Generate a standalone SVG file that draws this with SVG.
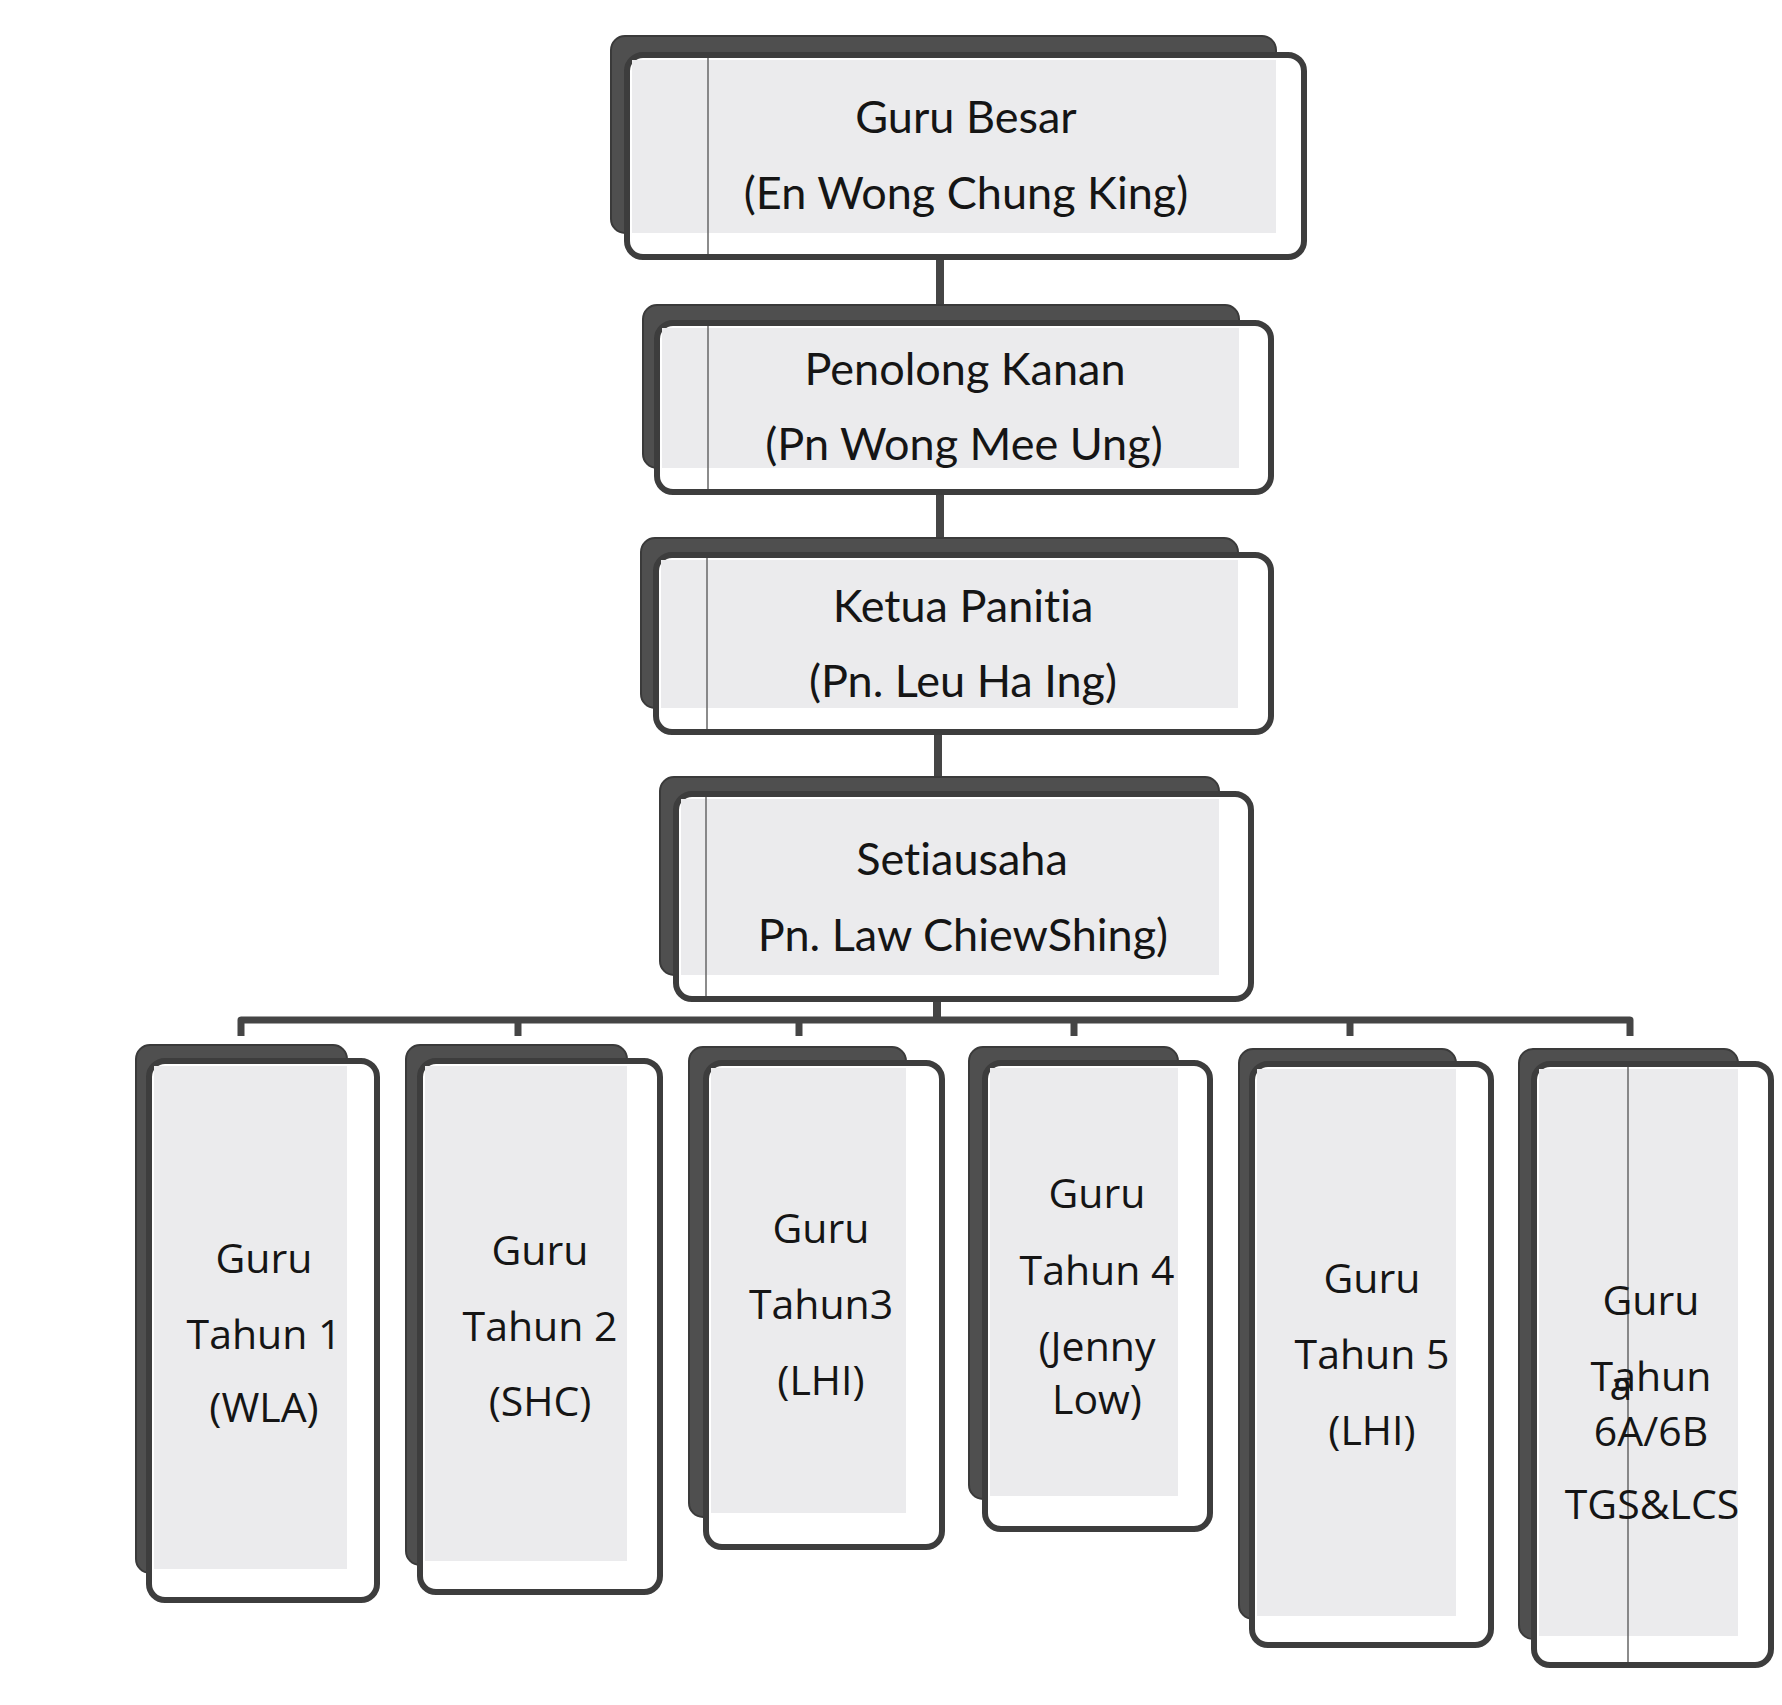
<svg xmlns="http://www.w3.org/2000/svg" width="1782" height="1705" viewBox="0 0 1782 1705">
<defs>
<style>
.shadow{fill:#4f4f4f;stroke:#3a3a3a;stroke-width:2}
.main{fill:#ffffff;stroke:#3d3d3d;stroke-width:6}
.inner{fill:#ebebed}
.vline{stroke:#666;stroke-width:1.5}
.conn{fill:none;stroke:#454545;stroke-width:8;stroke-linejoin:round}
.bus{fill:none;stroke:#454545;stroke-width:7;stroke-linejoin:round}
.t1{font-family:Lato,"Liberation Sans",sans-serif;font-size:45px;fill:#151515;text-anchor:middle;font-variant-ligatures:none;font-feature-settings:"liga" 0,"clig" 0}
.t2{font-family:"Open Sans","Liberation Sans",sans-serif;font-size:41px;fill:#151515;text-anchor:middle;font-variant-ligatures:none}
</style>
</defs>
<rect width="1782" height="1705" fill="#ffffff"/>

<g id="connectors">
<path class="conn" d="M940,257 V306"/>
<path class="conn" d="M940,492 V539"/>
<path class="conn" d="M938,732 V777"/>
<path class="conn" d="M937,999 V1020"/>
<path class="bus" d="M241,1036 V1020 H1630 V1036"/>
<path class="bus" d="M518,1020 V1036"/>
<path class="bus" d="M799,1020 V1036"/>
<path class="bus" d="M1074,1020 V1036"/>
<path class="bus" d="M1350,1020 V1036"/>
</g>

<g id="node-guru-besar">
<rect class="shadow" x="611" y="36" width="665" height="197" rx="14"/>
<rect class="main" x="627" y="55" width="677" height="202" rx="16"/>
<rect class="inner" x="632" y="60" width="644" height="173"/>
<line class="vline" x1="708" y1="58" x2="708" y2="254"/>
<text class="t1" x="966" y="133">Guru Besar</text>
<text class="t1" x="966" y="209">(En Wong Chung King)</text>
</g>

<g id="node-penolong-kanan">
<rect class="shadow" x="643" y="305" width="596" height="163" rx="14"/>
<rect class="main" x="657" y="323" width="614" height="169" rx="16"/>
<rect class="inner" x="662" y="328" width="577" height="140"/>
<line class="vline" x1="708" y1="326" x2="708" y2="489"/>
<text class="t1" x="965" y="385">Penolong Kanan</text>
<text class="t1" x="964" y="460">(Pn Wong Mee Ung)</text>
</g>

<g id="node-ketua-panitia">
<rect class="shadow" x="641" y="538" width="597" height="170" rx="14"/>
<rect class="main" x="656" y="555" width="615" height="177" rx="16"/>
<rect class="inner" x="661" y="560" width="577" height="148"/>
<line class="vline" x1="707" y1="558" x2="707" y2="729"/>
<text class="t1" x="963" y="622">Ketua Panitia</text>
<text class="t1" x="963" y="697">(Pn. Leu Ha Ing)</text>
</g>

<g id="node-setiausaha">
<rect class="shadow" x="660" y="777" width="559" height="198" rx="14"/>
<rect class="main" x="676" y="794" width="575" height="205" rx="16"/>
<rect class="inner" x="681" y="799" width="538" height="176"/>
<line class="vline" x1="706" y1="797" x2="706" y2="996"/>
<text class="t1" x="962" y="875">Setiausaha</text>
<text class="t1" x="963" y="951">Pn. Law ChiewShing)</text>
</g>

<g id="node-tahun-1">
<rect class="shadow" x="136" y="1045" width="211" height="528" rx="14"/>
<rect class="main" x="149" y="1061" width="228" height="539" rx="16"/>
<rect class="inner" x="154" y="1066" width="193" height="503"/>
<text class="t2" x="264" y="1273">Guru</text>
<text class="t2" x="264" y="1349">Tahun 1</text>
<text class="t2" x="264" y="1422">(WLA)</text>
</g>

<g id="node-tahun-2">
<rect class="shadow" x="406" y="1045" width="221" height="520" rx="14"/>
<rect class="main" x="420" y="1061" width="240" height="531" rx="16"/>
<rect class="inner" x="425" y="1066" width="202" height="495"/>
<text class="t2" x="540" y="1265">Guru</text>
<text class="t2" x="540" y="1341">Tahun 2</text>
<text class="t2" x="540" y="1416">(SHC)</text>
</g>

<g id="node-tahun-3">
<rect class="shadow" x="689" y="1047" width="217" height="470" rx="14"/>
<rect class="main" x="706" y="1063" width="236" height="484" rx="16"/>
<rect class="inner" x="711" y="1068" width="195" height="445"/>
<text class="t2" x="821" y="1243">Guru</text>
<text class="t2" x="821" y="1319">Tahun3</text>
<text class="t2" x="821" y="1395">(LHI)</text>
</g>

<g id="node-tahun-4">
<rect class="shadow" x="969" y="1047" width="209" height="452" rx="14"/>
<rect class="main" x="985" y="1063" width="225" height="466" rx="16"/>
<rect class="inner" x="990" y="1068" width="188" height="428"/>
<text class="t2" x="1097" y="1208">Guru</text>
<text class="t2" x="1097" y="1285">Tahun 4</text>
<text class="t2" x="1097" y="1361">(Jenny</text>
<text class="t2" x="1097" y="1414">Low)</text>
</g>

<g id="node-tahun-5">
<rect class="shadow" x="1239" y="1049" width="217" height="570" rx="14"/>
<rect class="main" x="1252" y="1064" width="239" height="581" rx="16"/>
<rect class="inner" x="1257" y="1069" width="199" height="547"/>
<text class="t2" x="1372" y="1293">Guru</text>
<text class="t2" x="1372" y="1369">Tahun 5</text>
<text class="t2" x="1372" y="1445">(LHI)</text>
</g>

<g id="node-tahun-6">
<rect class="shadow" x="1519" y="1049" width="219" height="590" rx="14"/>
<rect class="main" x="1534" y="1064" width="237" height="601" rx="16"/>
<rect class="inner" x="1539" y="1069" width="199" height="567"/>
<line class="vline" x1="1628" y1="1067" x2="1628" y2="1662"/>
<text class="t2" x="1651" y="1315">Guru</text>
<text class="t2" x="1651" y="1391">Tahun</text>
<text class="t2" x="1621" y="1400">a</text>
<text class="t2" x="1651" y="1446">6A/6B</text>
<text class="t2" x="1652" y="1519">TGS&amp;LCS</text>
</g>
</svg>
